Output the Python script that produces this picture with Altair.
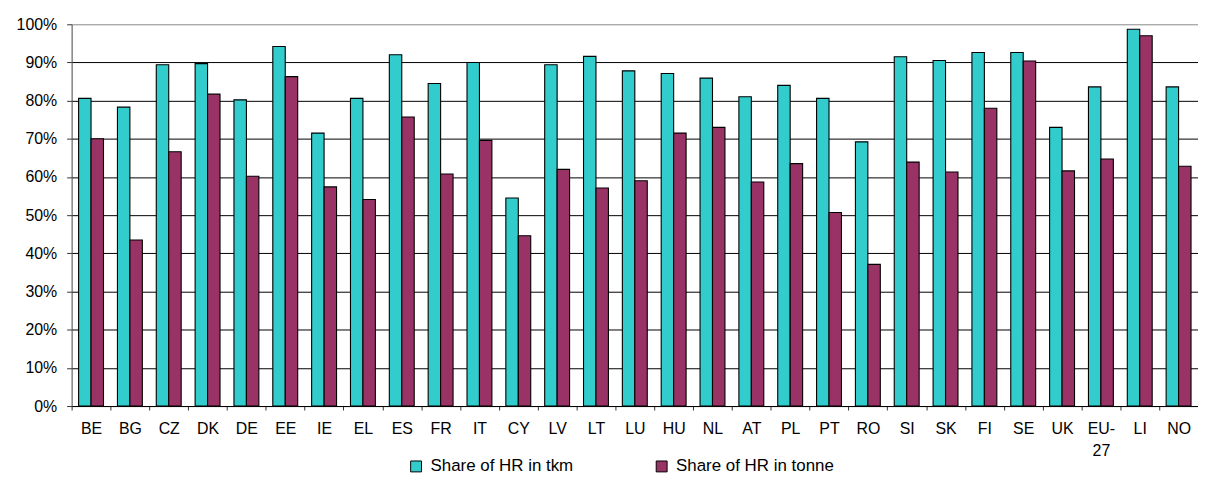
import altair as alt
import pandas as pd

countries = ["BE", "BG", "CZ", "DK", "DE", "EE", "IE", "EL", "ES", "FR", "IT", "CY", "LV", "LT", "LU",
             "HU", "NL", "AT", "PL", "PT", "RO", "SI", "SK", "FI", "SE", "UK", "EU-27", "LI", "NO"]
share_tkm = [80.6, 78.3, 89.4, 89.7, 80.2, 94.2, 71.5, 80.6, 92.0, 84.5, 90.0, 54.5, 89.4, 91.6, 87.8,
             87.1, 85.9, 81.0, 84.0, 80.6, 69.2, 91.5, 90.5, 92.6, 92.6, 73.0, 83.6, 98.7, 83.6]
share_tonne = [70.0, 43.5, 66.6, 81.7, 60.2, 86.3, 57.4, 54.1, 75.7, 60.8, 69.6, 44.6, 62.0, 57.1, 59.0,
               71.5, 73.0, 58.7, 63.5, 50.7, 37.1, 63.9, 61.3, 78.0, 90.4, 61.6, 64.7, 97.0, 62.8]
series_names = ["Share of HR in tkm", "Share of HR in tonne"]
series_colors = ["#33CCCC", "#993366"]
y_ticks = [0, 10, 20, 30, 40, 50, 60, 70, 80, 90, 100]

rows = []
for c, a, b in zip(countries, share_tkm, share_tonne):
    rows.append({"country": c, "series": series_names[0], "value": a})
    rows.append({"country": c, "series": series_names[1], "value": b})
df = pd.DataFrame(rows)

FONT = "Liberation Sans"

chart = alt.Chart(df).mark_bar(stroke="black", strokeWidth=1.1).encode(
    x=alt.X("country:N", sort=countries, title=None,
            scale=alt.Scale(paddingInner=0, paddingOuter=0),
            axis=alt.Axis(labelAngle=0, tickBand="extent", grid=False,
                          domainColor="black", tickColor="#333333", tickSize=4,
                          labelPadding=11, labelFontSize=16, labelFont=FONT,
                          labelColor="black", labelLineHeight=22,
                          labelExpr="datum.value == 'EU-27' ? ['EU-', '27'] : datum.value")),
    xOffset=alt.XOffset("series:N", sort=series_names,
                        scale=alt.Scale(paddingInner=0, paddingOuter=0.56)),
    y=alt.Y("value:Q", title=None,
            scale=alt.Scale(domain=[0, 100], nice=False),
            axis=alt.Axis(values=y_ticks, labelExpr="datum.value + '%'",
                          gridColor={"condition": {"test": "datum.value == 100", "value": "#888888"},
                                     "value": "black"},
                          gridWidth=1, domainColor="#444444", tickColor="#333333",
                          tickSize=5, labelPadding=10, labelFontSize=16, labelFont=FONT,
                          labelColor="black")),
    color=alt.Color("series:N", sort=series_names,
                    scale=alt.Scale(domain=series_names, range=series_colors),
                    legend=alt.Legend(title=None, orient="none", direction="horizontal",
                                      legendX=338, legendY=436,
                                      symbolType="square", symbolSize=120,
                                      symbolStrokeColor="black", symbolStrokeWidth=1,
                                      labelFontSize=17, labelFont=FONT, labelColor="black",
                                      labelLimit=0, labelOffset=6, columnPadding=80)),
).properties(
    width=1133,
    height=384,
    autosize=alt.AutoSizeParams(type="none"),
    padding={"left": 64, "top": 15, "right": 0, "bottom": 71},
).configure_view(stroke=None)

chart.save("out.html", embed_options={"renderer": "svg", "actions": False})
